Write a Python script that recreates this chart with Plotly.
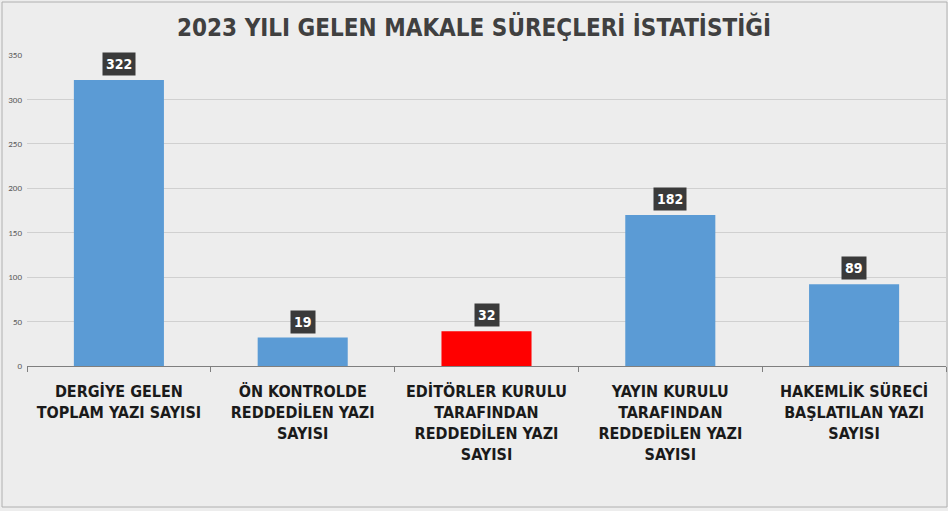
import plotly.graph_objects as go

categories = [
    "DERGİYE GELEN<br>TOPLAM YAZI SAYISI",
    "ÖN KONTROLDE<br>REDDEDİLEN YAZI<br>SAYISI",
    "EDİTÖRLER KURULU<br>TARAFINDAN<br>REDDEDİLEN YAZI<br>SAYISI",
    "YAYIN KURULU<br>TARAFINDAN<br>REDDEDİLEN YAZI<br>SAYISI",
    "HAKEMLİK SÜRECİ<br>BAŞLATILAN YAZI<br>SAYISI",
]
# bar heights as drawn in the picture
values = [322, 32, 39, 170, 92]
# data label texts as printed in the picture
labels = ["322", "19", "32", "182", "89"]
colors = ["#5b9bd5", "#5b9bd5", "#ff0000", "#5b9bd5", "#5b9bd5"]
y_ticks = [0, 50, 100, 150, 200, 250, 300, 350]

FONT = "DejaVu Sans Condensed, Roboto Condensed, Liberation Sans Narrow, Roboto, sans-serif"

fig = go.Figure(
    go.Bar(x=categories, y=values, marker=dict(color=colors, line=dict(width=0)), hoverinfo="skip")
)

for c, v, t in zip(categories, values, labels):
    fig.add_annotation(
        x=c, y=v, text=f"<b>{t}</b>", showarrow=False, yanchor="bottom", yshift=4,
        font=dict(family=FONT, size=14, color="white"),
        bgcolor="#3a3a3a", borderpad=3,
    )

fig.add_shape(
    type="rect", xref="paper", yref="paper",
    x0=-25 / 919, x1=1 + 1 / 919, y0=-141 / 311, y1=1 + 53 / 311,
    line=dict(color="#b0b0b0", width=1), fillcolor="rgba(0,0,0,0)", layer="below",
)

fig.update_layout(
    width=948, height=511,
    margin=dict(l=27, r=2, t=55, b=145),
    paper_bgcolor="#ededed", plot_bgcolor="#ededed",
    bargap=0.51,
    showlegend=False,
    title=dict(
        text="<b>2023 YILI GELEN MAKALE SÜREÇLERİ İSTATİSTİĞİ</b>",
        x=0.5, xanchor="center", y=1 - 28 / 511, yanchor="middle",
        font=dict(family=FONT, size=24, color="#404040"),
    ),
    xaxis=dict(
        tickson="boundaries", ticks="outside", ticklen=5, tickcolor="#7f7f7f",
        showline=True, linecolor="#7f7f7f", linewidth=1,
        tickfont=dict(family=FONT, size=16, color="#1a1a1a", weight="bold"),
        ticklabelstandoff=11, showgrid=False,
    ),
    yaxis=dict(
        range=[0, 350], tickvals=y_ticks, showgrid=True, gridcolor="#d0d0d0",
        tickfont=dict(family="Carlito, Liberation Sans, sans-serif", size=9, color="#595959"),
        zeroline=False, showline=False, ticklabelstandoff=4,
    ),
)

fig.write_html("out.html", config={"displayModeBar": False},
               post_script="document.body.style.margin='0';")
